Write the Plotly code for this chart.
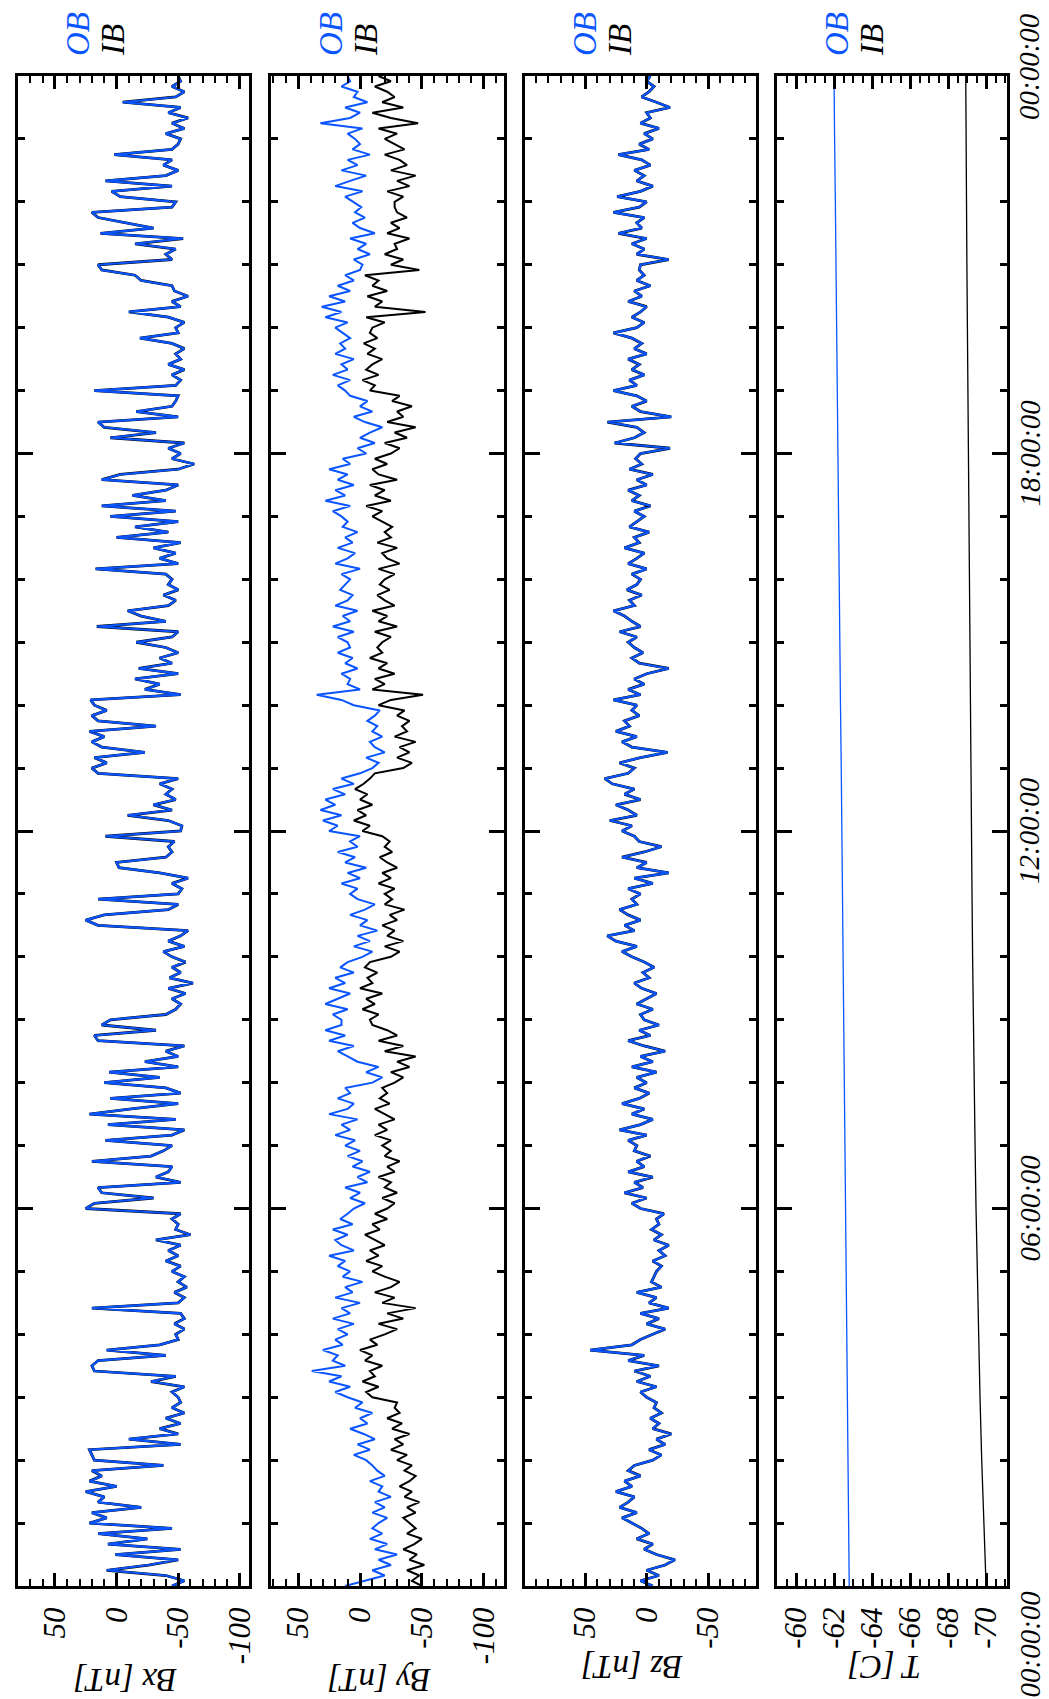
import plotly.graph_objects as go

# ---------------- data (5-minute samples, hours 0..24) ----------------
bx_ob = [
    -45, -55, -40, 8, -26, -50, 1, -52, 7, -25, 15, -45,
    22, 8, 20, -20, 15, 10, 25, 0, 22, 12, 20, -38,
    18, 20, 22, -52, -10, -50, -35, -52, -40, -55, -45, -52,
    -50, -45, -55, -28, -48, 18, 20, 15, -40, 8, -35, -50,
    -48, -55, -47, -55, -52, 20, -50, -55, -47, -57, -50, -55,
    -45, -52, -40, -50, -42, -52, -32, -60, -48, -50, -45, -52,
    25, 18, -30, 12, 15, -52, -32, -42, -45, 20, -28, -38,
    -45, 9, -45, -55, 7, -48, 22, -12, -50, 5, -52, -40,
    10, -35, 6, -50, -23, -50, -40, -55, 15, 18, -32, 12,
    5, -40, -48, -52, -45, -56, -42, -62, -43, -52, -45, -56,
    -45, -38, -55, -42, -52, -58, 15, 25, 10, -42, -50, 15,
    -50, -53, -45, -58, -35, -2, 0, -40, -45, -42, -47, 9,
    -52, -53, -42, -9, -45, -30, -48, -40, -45, -35, -50, 15,
    20, 8, 18, -23, 12, 20, 10, 22, -32, 15, 20, 8,
    18, 21, -52, -23, -35, -15, -50, -18, -45, -35, -50, -40,
    -16, -45, -50, 16, -40, -20, -9, -42, -48, -38, -50, -42,
    -45, -40, 17, -50, -35, -48, -30, -52, 0, -42, -15, -50,
    5, -48, 12, -40, -13, -40, -50, 12, -3, -50, -63, -45,
    -52, -42, -55, 5, -32, 10, 15, -50, -16, -45, -48, -50,
    18, -48, -52, -45, -55, -42, -52, -48, -55, -45, -19, -50,
    -48, -55, -42, -10, -52, -45, -58, -47, -45, -20, -15, 12,
    15, -45, -40, -48, -15, -54, 13, -30, -7, 15, 20, -45,
    -48, -3, 4, -45, 9, -40, -50, -38, -45, 2, -45, -50,
    -52, -40, -55, -45, -58, -42, -52, -5, -48, -55, -45, -52,
    -50,
]
bx_ib = list(bx_ob)  # IB and OB Bx overlap almost exactly

by_ob = [
    12, -5, -20, -10, -25, -15, -30, -12, -22, -8, -18, -10,
    -15, -22, -10, -20, -12, -25, -15, -18, -8, -20, -14, -10,
    -5, 5, -8, 2, -12, -3, 8, -6, 0, -10, 4, -2,
    10, 20, 8, 25, 15, 39, 12, 22, 18, 30, 14, 20,
    10, 18, 5, 22, 8, 15, 0, 20, 6, 12, -2, 14,
    8, 18, 12, 25, 5, 15, 20, 10, 22, 6, 16, 10,
    5, -4, 8, 0, 12, -6, 2, -8, 6, -2, 10, 0,
    12, 4, 20, 8, 15, 2, 25, 10, 5, 18, 8, 12,
    -10, -18, -5, -15, 2, 10, 18, 5, 25, 12, 28, 15,
    15, 22, 10, 28, 18, 8, 25, 12, 20, 5, 16, 10,
    -2, -10, 5, -8, 2, -14, 0, -6, 8, -4, -12, 2,
    8, 2, 15, 0, 10, -5, 12, 4, 18, 2, 8, 0,
    25, 18, 30, 15, 32, 20, 28, 12, 22, 5, 15, 0,
    -10, -15, -5, -20, -12, -8, -18, -10, -14, -6, -12, -16,
    5, 15, 35, 0, 10, 8, 15, 2, 12, 6, 18, 8,
    10, 18, 5, 22, 8, 14, 2, 20, 10, 6, 16, 12,
    8, 15, 0, 20, 10, 4, 18, 6, 12, 2, 14, 10,
    15, 22, 8, 28, 12, 20, 5, 18, 10, 25, 8, 14,
    -5, 2, -12, 0, -8, -18, -4, 5, -10, 0, -6, 8,
    12, 18, 8, 22, 10, 15, 5, 20, 12, 16, 8, 14,
    20, 10, 28, 15, 31, 12, 25, 8, 18, 5, 12, 0,
    -2, 5, -8, 2, -5, 8, -12, 0, 6, -4, 4, -1,
    5, 12, -2, 20, 8, -5, 15, 2, 10, -8, 6, 0,
    4, 10, -2, 32, 8, 0, 12, -6, 5, 2, 15, 8,
    10,
]
by_ib = [
    -50, -42, -48, -38, -52, -40, -46, -35, -44, -50, -38, -45,
    -40, -35, -45, -38, -48, -36, -42, -32, -40, -45, -36, -42,
    -30, -38, -25, -35, -28, -40, -26, -34, -22, -32, -28, -30,
    -10, -5, -15, -2, -12, -8, -18, -4, -10, 0, -14, -8,
    -20, -30, -15, -35, -22, -45, -18, -28, -12, -25, -32, -20,
    -10, -18, -5, -15, -8, -20, -12, -4, -16, -10, -22, -12,
    -22, -28, -18, -30, -20, -25, -15, -28, -22, -32, -20, -25,
    -18, -25, -12, -22, -15, -28, -20, -12, -24, -16, -22, -18,
    -28, -35, -25, -40, -30, -45, -20, -35, -15, -30, -22, -10,
    -8, -15, -2, -12, -5, -18, 0, -10, -6, -14, -4, -8,
    -25, -32, -20, -35, -22, -28, -18, -30, -24, -36, -20, -26,
    -20, -28, -15, -25, -18, -30, -22, -16, -26, -20, -24, -18,
    -2, -8, 5, -5, 2, -10, 0, -6, 4, -3, -8, -12,
    -35, -42, -30, -40, -32, -45, -28, -38, -34, -40, -30, -36,
    -15, -25, -51, -10, -20, -12, -28, -15, -22, -8, -18, -14,
    -18, -25, -12, -30, -15, -22, -10, -28, -20, -14, -24, -16,
    -20, -28, -15, -32, -22, -18, -30, -14, -25, -20, -26, -18,
    -10, -18, -5, -25, -12, -20, -8, -30, -15, -10, -22, -12,
    -25, -32, -20, -38, -28, -45, -22, -35, -30, -42, -26, -32,
    -8, -12, -2, -15, -5, -10, -18, -6, -12, -3, -14, -8,
    -10, -20, -5, -53, -12, -18, -6, -22, -10, -15, -4, -48,
    -25, -35, -20, -30, -28, -40, -22, -32, -25, -38, -30, -28,
    -28, -35, -22, -40, -30, -45, -25, -38, -32, -20, -36, -28,
    -20, -30, -15, -47, -25, -10, -35, -18, -28, -22, -12, -25,
    -15,
]

bz_ob = [
    -5, 5, -10, 0, -15, -23, -8, 2, -5, 8, -2, 4,
    12, 20, 8, 22, 15, 10, 25, 12, 18, 5, 15, 10,
    -5, -12, -2, -15, -8, -20, -5, -10, -3, -12, -6, -8,
    0, 5, -8, 8, -3, 10, -10, 15, 2, 46, 12, 5,
    -5, -15, 0, -10, 5, -18, -2, -8, 8, -12, -4, -6,
    -8, -12, -5, -15, -10, -18, -6, -12, -4, -10, -8, -14,
    5, 12, 0, 18, 3, 10, -5, 15, 2, 8, -3, 10,
    8, 15, 0, 22, 5, -5, 12, 2, 20, 6, -2, 10,
    0, 8, -8, 12, -5, 5, -15, 2, 15, -3, 6, -10,
    2, 5, -5, 8, 0, -8, 4, 10, -2, 3, -6, 2,
    12, 20, 8, 25, 32, 10, 18, 5, 15, 22, 8, 12,
    5, 15, -5, 10, -18, 8, 0, 20, 2, -12, 6, 10,
    20, 12, 30, 8, 15, 25, 5, 18, 10, 28, 34, 15,
    10, 22, 5, -17, 12, 20, 8, 25, 14, 18, 6, 12,
    8, 27, 5, 15, 2, 10, 0, -18, 6, 12, 3, 10,
    15, 8, 22, 5, 12, 18, 27, 10, 14, 4, 16, 8,
    5, 12, 0, 15, 8, 2, 18, 6, 10, -2, 14, 8,
    2, 10, -3, 12, 6, 15, 0, 8, -5, 14, 4, 9,
    5, -19, 26, 10, 2, 8, 32, -20, 5, 12, 0, 8,
    27, 8, 14, 2, 12, 6, 15, 0, 10, 4, 12, 27,
    8, 2, 12, 5, 0, 15, 4, 10, -3, 8, 2, 6,
    5, -18, 8, 2, 12, 0, 23, 4, 8, 2, 27, 6,
    0, 24, 5, -5, 8, 2, 10, -3, 4, 23, -2, 6,
    -5, 2, -10, 5, -3, 0, -19, -8, 4, -2, -6, 0,
    -3,
]
bz_ib = list(bz_ob)  # IB and OB Bz overlap almost exactly

t_hours = [
    0, 1, 2, 3, 4, 5, 6, 7, 8, 9, 10, 11, 12,
    13, 14, 15, 16, 17, 18, 19, 20, 21, 22, 23, 24,
]
temp_ob = [
    -62.80, -62.77, -62.74, -62.71, -62.68, -62.65, -62.62, -62.58, -62.55,
    -62.52, -62.48, -62.45, -62.41, -62.38, -62.34, -62.31, -62.27, -62.24,
    -62.20, -62.17, -62.13, -62.10, -62.07, -62.03, -62.00,
]
temp_ib = [
    -70.00, -69.88, -69.77, -69.68, -69.60, -69.53, -69.47, -69.42, -69.37,
    -69.33, -69.29, -69.26, -69.23, -69.20, -69.17, -69.14, -69.11, -69.08,
    -69.06, -69.03, -69.01, -68.99, -68.97, -68.95, -68.93,
]

time_tickvals = [0, 6, 12, 18, 24]
time_ticktext = ["00:00:00", "06:00:00", "12:00:00", "18:00:00", "00:00:00"]
b_tickvals = [50, 0, -50, -100]
b_ticktext = ["50", "0", "-50", "-100"]
bz_tickvals = [50, 0, -50]
bz_ticktext = ["50", "0", "-50"]
t_tickvals = [-60, -62, -64, -66, -68, -70]
t_ticktext = ["-60", "-62", "-64", "-66", "-68", "-70"]
panel_titles = ["Bx [nT]", "By [nT]", "Bz [nT]", "T [C]"]

# ---------------- layout helpers ----------------
W, H = 1049, 1699
L, R, T, B = 10, 999, 68, 1578
BLUE = "#0a55ff"
FONT = "Liberation Serif"


def px(xp):
    return (xp - L) / (R - L)


def py(yp):
    return (B - yp) / (B - T)


panels = [(10, 241), (263, 496), (517, 748), (769, 999)]
t5 = [i * 5 / 60 for i in range(len(bx_ob))]

fig = go.Figure()
series = [
    (bx_ib, bx_ob, t5, 2.2, 2.8),
    (by_ib, by_ob, t5, 2.0, 2.0),
    (bz_ib, bz_ob, t5, 2.2, 2.8),
    (temp_ib, temp_ob, t_hours, 1.3, 1.3),
]
for i, (ib, ob, tt, wob, wib) in enumerate(series):
    xa = "x" if i == 0 else f"x{i+1}"
    ya = "y" if i == 0 else f"y{i+1}"
    fig.add_trace(go.Scatter(x=ib, y=tt, mode="lines", xaxis=xa, yaxis=ya,
                             line=dict(color="black", width=wib), showlegend=False,
                             name="IB"))
    fig.add_trace(go.Scatter(x=ob, y=tt, mode="lines", xaxis=xa, yaxis=ya,
                             line=dict(color=BLUE, width=wob), showlegend=False,
                             name="OB"))

tickfont = dict(family=FONT, size=31, color="black", style="italic")
timefont = dict(family=FONT, size=29, color="black", style="italic")
ranges = [[80, -107.5], [72, -116.5], [99, -89], [-59.0, -71.1]]
xticks = [(b_tickvals, b_ticktext, 10), (b_tickvals, b_ticktext, 10),
          (bz_tickvals, bz_ticktext, 10), (t_tickvals, t_ticktext, 0.5)]

layout = dict(
    width=W, height=H,
    margin=dict(l=L, r=W - R, t=T, b=H - B, autoexpand=False),
    paper_bgcolor="white", plot_bgcolor="white",
    showlegend=False,
)
for i, (a, b) in enumerate(panels):
    key = "" if i == 0 else str(i + 1)
    tv, tt_, mdt = xticks[i]
    layout["xaxis" + key] = dict(
        domain=[px(a), px(b)], range=ranges[i], autorange=False,
        anchor="y" + key, showgrid=False, zeroline=False,
        showline=True, linecolor="black", linewidth=3, mirror="allticks",
        ticks="inside", ticklen=13, tickwidth=2.5, tickcolor="black",
        tickmode="array", tickvals=tv, ticktext=tt_,
        tickangle=-90, tickfont=tickfont, ticklabelstandoff=6,
        minor=dict(tickmode="linear", dtick=mdt, tick0=0, ticks="inside",
                   ticklen=7, tickwidth=2, tickcolor="black", showgrid=False),
    )
    layout["yaxis" + key] = dict(
        domain=[0, 1], range=[0, 24], autorange=False,
        anchor="x" + key, showgrid=False, zeroline=False,
        showline=True, linecolor="black", linewidth=3, mirror="allticks",
        ticks="inside", ticklen=15, tickwidth=2.5, tickcolor="black",
        tickmode="array", tickvals=time_tickvals,
        showticklabels=False,
        minor=dict(tickmode="linear", dtick=1, tick0=0, ticks="inside",
                   ticklen=7, tickwidth=2.5, tickcolor="black", showgrid=False),
    )

annotations = []
title_y = [1672, 1672, 1659, 1659]
for i, (a, b) in enumerate(panels):
    annotations.append(dict(
        text=panel_titles[i], x=px((a + b) / 2 - 8), y=py(title_y[i]),
        xref="paper", yref="paper", xanchor="center", yanchor="middle",
        textangle=180, showarrow=False,
        font=dict(family=FONT, size=33, color="black", style="italic")))
    annotations.append(dict(
        text="OB", x=px(a + 60), y=py(50), xref="paper", yref="paper",
        xanchor="center", yanchor="bottom", textangle=-90, showarrow=False,
        font=dict(family=FONT, size=33, color=BLUE, style="italic")))
    annotations.append(dict(
        text="IB", x=px(a + 95), y=py(50), xref="paper", yref="paper",
        xanchor="center", yanchor="bottom", textangle=-90, showarrow=False,
        font=dict(family=FONT, size=33, color="black", style="italic")))

# time labels to the right of the last panel (placed on the time axis)
for tv, txt in zip(time_tickvals, time_ticktext):
    if tv == time_tickvals[0]:
        anc, shift = "top", -3
    elif tv == time_tickvals[-1]:
        anc, shift = "middle", 9
    else:
        anc, shift = "middle", 0
    annotations.append(dict(
        text=txt, x=px(1021), y=tv, xref="paper", yref="y4",
        xanchor="center", yanchor=anc, yshift=shift, textangle=-90,
        showarrow=False, font=timefont))
layout["annotations"] = annotations

fig.update_layout(**layout)
fig.write_html("out.html")
